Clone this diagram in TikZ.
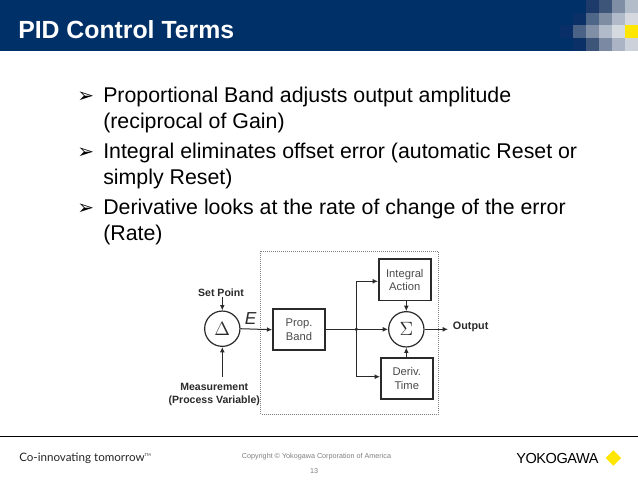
\documentclass[tikz,border=0pt]{standalone}
\usepackage{fontspec}
\setmainfont{Liberation Sans}
\newfontfamily\symfont{DejaVu Sans}
\newfontfamily\tagfont{Lato}
\usetikzlibrary{arrows.meta,calc}
\definecolor{hdr}{HTML}{003068}
\definecolor{ink}{HTML}{2A2A2A}
\definecolor{ykyellow}{HTML}{FFE600}
\tikzset{
  x=0.75pt,y=-0.75pt,
  tile/.style={fill=#1,draw=none},
  bullet/.style={anchor=base west,inner sep=0,font=\fontsize{16}{18}\selectfont,text=black},
  bulletmark/.style={anchor=base west,inner sep=0,font=\symfont\fontsize{15}{18}\selectfont,text=black},
  blockbox/.style={draw=ink,line width=1.4pt,fill=white,align=center,inner sep=0,font=\fontsize{8.4}{10}\selectfont,text=ink!85},
  sumcircle/.style={circle,draw=ink,line width=0.9pt,fill=white,inner sep=0,minimum size=26.5pt,text=ink,font=\fontsize{15}{16}\selectfont},
  dialabel/.style={inner sep=0,font=\bfseries\fontsize{7.9}{9.2}\selectfont,text=ink,align=center},
  link/.style={draw=ink,line width=0.75pt,-{Latex[length=4pt,width=3.6pt]}},
  plainlink/.style={draw=ink,line width=0.75pt}
}
\begin{document}
\begin{tikzpicture}
\useasboundingbox (0,0) rectangle (638,479);
\fill[white] (0,0) rectangle (638,479);
% header
\fill[hdr] (0,0) rectangle (638,51);
\foreach \xa/\ya/\c in {
 586/0/1D3A6A,599/0/3C5578,612/0/7F8EA5,625/0/B3BCC9,
 572.7/12.7/0B3068,586/12.7/4E6688,599/12.7/7F8DA3,612/12.7/B0BAC8,625/12.7/D5D9DF,
 559.5/25.4/0A2F68,572.7/25.4/4A6285,586/25.4/808FA5,599/25.4/B0BAC8,612/25.4/D5D9E0,625/25.4/FFE600,
 572.7/38.2/0B3068,586/38.2/3C5578,599/38.2/7B8AA2,612/38.2/AAB4C4,625/38.2/CDD2DA}{
  \definecolor{tc}{HTML}{\c}
  \fill[tc] (\xa,\ya) rectangle ++(13.2,12.9);
}
\node[anchor=base west,inner sep=0,text=white,font=\bfseries\fontsize{18.6}{22}\selectfont] (title) at (18,38) {PID Control Terms};
% bullets
\node[bulletmark] (b1) at (77,102) {➢};
\node[bullet] (t1) at (103,102) {Proportional Band adjusts output amplitude};
\node[bullet] (t1b) at (103,128) {(reciprocal of Gain)};
\node[bulletmark] (b2) at (77,158) {➢};
\node[bullet] (t2) at (103,158) {Integral eliminates offset error (automatic Reset or};
\node[bullet] (t2b) at (103,184) {simply Reset)};
\node[bulletmark] (b3) at (77,214) {➢};
\node[bullet] (t3) at (103,214) {Derivative looks at the rate of change of the error};
\node[bullet] (t3b) at (103,240) {(Rate)};
% diagram
\draw[gray,densely dotted,line width=0.5pt] (260.7,251) rectangle (438.3,414);
\node[sumcircle] (delta) at (222.3,328.7) {$\Delta$};
\node[sumcircle] (sigma) at (406.3,329.3) {$\Sigma$};
\node[blockbox,minimum width=38.8pt,minimum height=31pt] (prop) at (299,329.7) {Prop.\\Band};
\node[blockbox,minimum width=38.8pt,minimum height=31pt] (integ) at (404.8,279.8) {Integral\\Action};
\node[blockbox,minimum width=38.8pt,minimum height=31pt] (deriv) at (406.8,378.5) {Deriv.\\Time};
\node[dialabel] (sp) at (221,292.7) {Set Point};
\node[dialabel] (meas) at (214.3,394.5) {Measurement\\(Process Variable)};
\node[dialabel,anchor=west,font=\bfseries\fontsize{8.1}{9}\selectfont] (out) at (452.7,327) {Output};
\node[inner sep=0,text=ink,font=\itshape\fontsize{13}{14}\selectfont] (e) at (250.7,319) {E};
\coordinate (jn) at (356.3,329.3);
\coordinate (up) at (356.3,281.3);
\coordinate (dn) at (356.3,376.7);
\coordinate (mstart) at (222.3,377);
\coordinate (sstart) at (222.3,297);
\coordinate (oend) at (448,329.3);
\draw[link] (sstart) -- (delta.north);
\draw[link] (mstart) -- (delta.south);
\draw[link] (delta.east) -- (prop.west);
\draw[plainlink] (prop.east |- jn) -- (jn);
\draw[link] (jn) -- (sigma.west);
\draw[plainlink] (up) -- (dn);
\draw[link] (up) -- (up -| integ.west);
\draw[link] (dn) -- (dn -| deriv.west);
\fill[ink] (jn) circle (1.8);
\draw[link] (integ.south -| sigma) -- (sigma.north);
\draw[link] (deriv.north -| sigma) -- (sigma.south);
\draw[link] (sigma.east) -- (oend);
% footer
\draw[black,line width=0.9pt] (0,436.7) -- (638,436.7);
\node[anchor=base west,inner sep=0,text=black!85,font=\tagfont\fontsize{8.7}{11}\selectfont] (tag) at (19,461) {Co-innovating tomorrow\raisebox{3.5pt}{\fontsize{3}{4}\selectfont TM}};
\node[inner sep=0,text=gray,font=\fontsize{5.4}{7}\selectfont] (copy) at (316.5,456.5) {Copyright © Yokogawa Corporation of America};
\node[inner sep=0,text=gray,font=\fontsize{5.4}{7}\selectfont] (pg) at (314,471) {13};
\node[anchor=west,inner sep=0,text=black,font=\fontsize{10.9}{13}\selectfont] (yk) at (516,458) {\addfontfeature{LetterSpace=-3}YOKOGAWA};
\fill[ykyellow] (613.4,450.3) -- (621.1,458) -- (613.4,465.7) -- (605.7,458) -- cycle;
\end{tikzpicture}
\end{document}
